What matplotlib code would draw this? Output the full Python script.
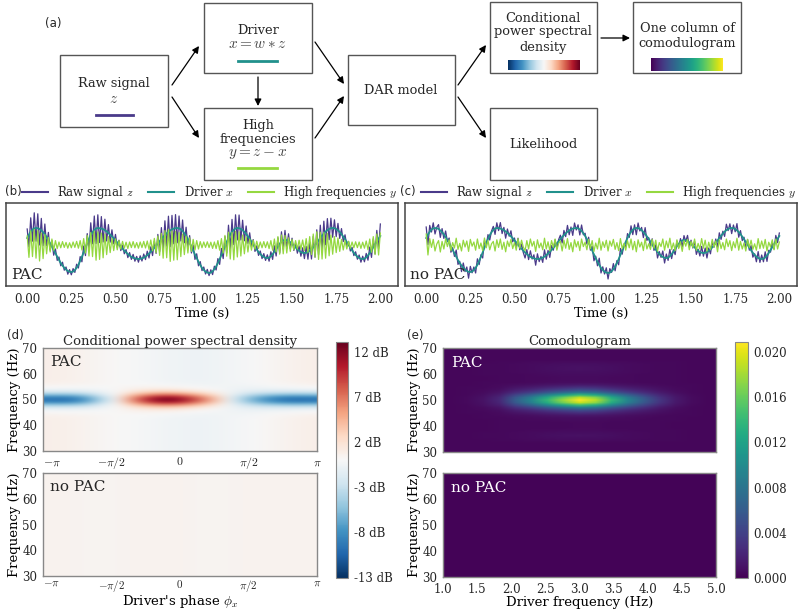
import numpy as np
import matplotlib
matplotlib.use('Agg')
import matplotlib.pyplot as plt
from matplotlib.patches import Rectangle

plt.rcParams['font.family'] = 'DejaVu Serif'
plt.rcParams['mathtext.fontset'] = 'cm'
plt.rcParams['text.color'] = '#262626'
plt.rcParams['xtick.color'] = '#262626'
plt.rcParams['ytick.color'] = '#262626'

# ---------------- data ----------------
# time axis of panels (b) and (c), 100 Hz sampling
time_s = np.linspace(0, 2, 201)

# driver x (low frequency part), read every 10 ms
driver = [
    0.35, 0.52, 0.66, 0.77, 0.83, 0.85,
    0.84, 0.80, 0.73, 0.64, 0.53, 0.40, 0.25, 0.09, -0.08, -0.25,
    -0.42, -0.59, -0.75, -0.90, -1.03, -1.14, -1.23, -1.30, -1.34, -1.35,
    -1.33, -1.25, -1.14, -0.99, -0.80, -0.59, -0.37, -0.13, 0.09, 0.30,
    0.49, 0.64, 0.75, 0.83, 0.85,
    0.84, 0.82, 0.79, 0.74, 0.68, 0.60, 0.52, 0.43, 0.34, 0.23,
    0.13, 0.02, -0.08, -0.19, -0.28, -0.37, -0.45, -0.53, -0.59, -0.64,
    -0.67, -0.69, -0.70,
    -0.69, -0.67, -0.63, -0.58, -0.51, -0.43, -0.34, -0.25, -0.14, -0.04,
    0.08, 0.19, 0.29, 0.40, 0.49, 0.58, 0.66, 0.73, 0.78, 0.82,
    0.84, 0.85,
    0.83, 0.78, 0.70, 0.59, 0.45, 0.29, 0.11, -0.08, -0.28, -0.47,
    -0.66, -0.84, -1.00, -1.14, -1.25, -1.33, -1.38, -1.40,
    -1.38, -1.31, -1.21, -1.07, -0.90, -0.71, -0.49, -0.28, -0.06, 0.16,
    0.35, 0.52, 0.66, 0.76, 0.83, 0.85,
    0.84, 0.80, 0.74, 0.65, 0.55, 0.43, 0.31, 0.17, 0.03, -0.11,
    -0.23, -0.35, -0.45, -0.54, -0.60, -0.64, -0.65,
    -0.63, -0.56, -0.46, -0.34, -0.20, -0.06, 0.06, 0.16, 0.23, 0.25,
    0.24, 0.20, 0.14, 0.06, -0.03, -0.12, -0.21, -0.29, -0.35, -0.39, -0.40,
    -0.39, -0.35, -0.29, -0.22, -0.12, -0.01, 0.10, 0.23, 0.35, 0.46,
    0.57, 0.67, 0.74, 0.80, 0.84, 0.85,
    0.84, 0.80, 0.73, 0.65, 0.54, 0.42, 0.29, 0.15, 0.00, -0.14,
    -0.27, -0.39, -0.50, -0.58, -0.65, -0.69, -0.70,
    -0.68, -0.62, -0.52, -0.40, -0.26, -0.11, 0.04, 0.18, 0.32, 0.45,
]

# high frequencies y with PAC (50 Hz, amplitude follows driver phase)
high_pac = [
    0.45, -0.62, 0.70, -0.58, 0.78, -0.66, 0.72, -0.80, 0.60, -0.68, 0.52,
    -0.44, 0.38, -0.35, 0.30, -0.26, 0.22,
    -0.18, 0.15, -0.14, 0.17, -0.12, 0.13, -0.16, 0.11, -0.14, 0.15,
    -0.12, 0.18, -0.16, 0.22, -0.25,
    0.32, -0.40, 0.48, -0.55, 0.62, -0.58, 0.70, -0.76, 0.66, -0.72,
    0.60, -0.64, 0.55, -0.48, 0.42, -0.38,
    0.33, -0.28, 0.30, -0.24, 0.22, -0.20, 0.18,
    -0.16, 0.14, -0.18, 0.15, -0.13, 0.17, -0.14, 0.12, -0.16, 0.15,
    -0.13, 0.18, -0.15, 0.20, -0.22, 0.25, -0.28, 0.33,
    -0.38, 0.45, -0.52, 0.58, -0.66, 0.72, -0.64, 0.78, -0.82, 0.70,
    -0.76, 0.68, -0.74, 0.62, -0.58, 0.55, -0.48, 0.44, -0.40, 0.36,
    -0.32, 0.28, -0.25, 0.22, -0.20,
    0.17, -0.14, 0.15, -0.12, 0.16, -0.13, 0.14, -0.17, 0.15, -0.18,
    0.22, -0.26,
    0.32, -0.40, 0.48, -0.56, 0.64, -0.70, 0.62, -0.74, 0.68, -0.60,
    0.66, -0.55, 0.50, -0.44, 0.40, -0.35,
    0.30, -0.26, 0.24, -0.21, 0.19, -0.17,
    0.15, -0.14, 0.17, -0.13, 0.16, -0.18, 0.22, -0.26, 0.30,
    -0.35, 0.42, -0.46, 0.50, -0.44, 0.48, -0.40, 0.36, -0.32, 0.28,
    -0.24, 0.22, -0.20, 0.24, -0.21, 0.25, -0.28, 0.32, -0.36, 0.42,
    -0.48, 0.55, -0.60, 0.66, -0.72, 0.64, -0.70, 0.62, -0.66, 0.58,
    -0.54, 0.50, -0.46, 0.42, -0.38, 0.35, -0.32, 0.28,
    -0.25, 0.22, -0.20, 0.18, -0.16, 0.15,
    -0.14, 0.16, -0.13, 0.15, -0.17, 0.14, -0.16, 0.20, -0.24, 0.30,
    -0.36, 0.42, -0.48, 0.55, -0.50, 0.60,
]

# high frequencies y without PAC (constant amplitude)
high_nopac = [
    0.55, -0.50, 0.32, -0.12, 0.28, -0.30, 0.05, 0.22, -0.35, 0.18,
    -0.20, 0.30, -0.08, 0.26, -0.28, 0.12, -0.15, 0.34, -0.22, 0.08,
    -0.30, 0.24, -0.10, 0.20, -0.32, 0.28, -0.06, 0.15, -0.26, 0.30,
    -0.18, 0.10, -0.28, 0.35, -0.14, 0.22, -0.24, 0.06, 0.18, -0.30,
    0.26, -0.12, 0.30, -0.22, 0.14, -0.34, 0.20, -0.08, 0.28, -0.18,
    0.12, -0.26, 0.32, -0.16, 0.24, -0.10, -0.28, 0.22, -0.20, 0.30,
    -0.06, 0.18, -0.32, 0.26, -0.14, 0.10, -0.24, 0.34, -0.20, 0.16,
    -0.28, 0.22, -0.12, 0.30, -0.26, 0.08, 0.20, -0.30, 0.24, -0.16,
    0.32, -0.22, 0.12, -0.34, 0.26, -0.10, 0.18, -0.28, 0.30, -0.08,
    0.14, -0.24, 0.28, -0.18, 0.22, -0.32, 0.10, -0.20, 0.34, -0.26,
    0.16, -0.12, 0.24, -0.30, 0.20, -0.06, 0.28, -0.22, 0.12, -0.28,
    0.32, -0.18, 0.08, -0.26, 0.22, -0.14, 0.30, -0.24, 0.18, -0.34,
    0.26, -0.10, 0.14, -0.28, 0.32, -0.20, 0.06, -0.22, 0.28, -0.16,
    0.24, -0.30, 0.12, -0.08, 0.30, -0.26, 0.20, -0.14, 0.34, -0.22,
    0.10, -0.28, 0.26, -0.18, 0.16, -0.32, 0.22, -0.06, 0.28, -0.24,
    0.18, -0.12, 0.30, -0.26, 0.08, -0.20, 0.32, -0.16, 0.24, -0.30,
    0.14, -0.22, 0.28, -0.10, 0.20, -0.34, 0.26, -0.18, 0.12, -0.24,
    0.30, -0.08, 0.22, -0.28, 0.16, -0.14, 0.34, -0.26, 0.18, -0.20,
    0.10, -0.30, 0.28, -0.12, 0.24, -0.22, 0.06, -0.26, 0.32, -0.18,
    0.20, -0.16, 0.28, -0.30, 0.14, -0.10, 0.26, -0.24, 0.30, -0.20,
    0.15,
]

time_ticks = [0.0, 0.25, 0.5, 0.75, 1.0, 1.25, 1.5, 1.75, 2.0]

# conditional PSD, frequency rows 30..70 Hz (1 Hz), phase columns -pi..pi (pi/8)
psd_freqs = np.arange(30, 71)
psd_phases = np.linspace(-np.pi, np.pi, 17)
psd_db_50hz_pac = [-10.5, -10.5, -8.5, -4.5, -0.5, 6.0, 10.5, 13.0, 12.0,
                   9.0, 5.0, -0.3, -4.5, -7.5, -9.5, -10.5, -10.5]
psd_bg_pac = [0.8, 0.7, 0.5, 0.3, 0.1, -0.1, -0.3, -0.5, -0.6,
              -0.7, -0.6, -0.4, -0.2, 0.1, 0.4, 0.6, 0.8]
psd_bg_nopac = [0.5, 0.5, 0.4, 0.4, 0.4, 0.5, 0.5, 0.5, 0.5,
                0.4, 0.4, 0.4, 0.5, 0.5, 0.5, 0.5, 0.5]
psd_freq_weight = [0] * 13 + [0.01, 0.03, 0.07, 0.15, 0.32, 0.58, 0.87, 1.0,
                              0.87, 0.58, 0.32, 0.15, 0.07, 0.03, 0.01] + [0] * 13
psd_ticks = [-13, -8, -3, 2, 7, 12]
phase_ticks = [-np.pi, -np.pi / 2, 0, np.pi / 2, np.pi]
phase_labels = [r'$-\pi$', r'$-\pi/2$', r'$0$', r'$\pi/2$', r'$\pi$']

# comodulogram, frequency rows 30..70 Hz, driver frequency columns 1..5 Hz (0.25)
comod_driver_freqs = np.linspace(1.0, 5.0, 17)
comod_driver_profile = [0.0, 0.005, 0.03, 0.09, 0.28, 0.45, 0.66, 0.85, 1.0,
                        0.9, 0.66, 0.45, 0.28, 0.14, 0.05, 0.01, 0.0]
comod_freq_weight = ([0] * 4 +
                     [0.01, 0.02, 0.025, 0.02, 0.01, 0.005, 0.005, 0.005, 0.01,
                      0.02, 0.05, 0.12, 0.22, 0.40, 0.68, 0.92, 1.0, 0.90, 0.65,
                      0.38, 0.22, 0.12, 0.05, 0.015, 0.01, 0.01, 0.015, 0.02,
                      0.025, 0.025, 0.02, 0.01] +
                     [0] * 5)
comod_peak = 0.0205
comod_floor_pac = 0.0004
comod_floor_nopac = 0.0002
comod_ticks = [0.0, 0.004, 0.008, 0.012, 0.016, 0.020]

c_raw = '#4a3a8a'
c_drv = '#21918c'
c_high = '#95d840'

# tables for imshow
psd_pac = np.outer(psd_freq_weight, psd_db_50hz_pac) + np.array(psd_bg_pac)[None, :]
psd_nopac = np.zeros((len(psd_freqs), len(psd_phases))) + np.array(psd_bg_nopac)[None, :]
comod_pac = comod_peak * np.outer(comod_freq_weight, comod_driver_profile) + comod_floor_pac
comod_nopac = np.full((len(psd_freqs), len(comod_driver_freqs)), comod_floor_nopac)

# ---------------- figure ----------------
W, H = 800, 609
fig = plt.figure(figsize=(8, 6.09), dpi=100)


def box(x0, y0, x1, y1):
    return [x0 / W, 1 - y1 / H, (x1 - x0) / W, (y1 - y0) / H]


# (a) diagram drawn in pixel coordinates
ax0 = fig.add_axes([0, 0, 1, 1])
ax0.set_xlim(0, W)
ax0.set_ylim(H, 0)
ax0.axis('off')
ax0.patch.set_visible(False)

boxes = {
    'raw': (60, 55, 168, 127),
    'drv': (204, 3, 312, 73),
    'high': (204, 108, 312, 180),
    'dar': (348, 55, 455, 125),
    'psd': (490, 2, 597, 73),
    'col': (633, 2, 741, 73),
    'lik': (490, 108, 597, 180),
}
for x0, y0, x1, y1 in boxes.values():
    ax0.add_patch(Rectangle((x0, y0), x1 - x0, y1 - y0, fill=False,
                            ec='#555555', lw=1.0))

fs_box = 9.3
fs_math = 11
ax0.text(114, 83, 'Raw signal', ha='center', va='center', fontsize=fs_box)
ax0.text(114, 99, r'$z$', ha='center', va='center', fontsize=fs_math, color='#444444')
ax0.plot([96, 133], [115, 115], color=c_raw, lw=2)
ax0.text(258, 30, 'Driver', ha='center', va='center', fontsize=fs_box)
ax0.text(258, 44, r'$x = w * z$', ha='center', va='center', fontsize=fs_math, color='#444444')
ax0.plot([238, 277], [61, 61], color=c_drv, lw=2)
ax0.text(258, 125, 'High', ha='center', va='center', fontsize=fs_box)
ax0.text(258, 139, 'frequencies', ha='center', va='center', fontsize=fs_box)
ax0.text(258, 154, r'$y = z - x$', ha='center', va='center', fontsize=fs_math, color='#444444')
ax0.plot([238, 277], [168, 168], color=c_high, lw=2)
ax0.text(401, 90, 'DAR model', ha='center', va='center', fontsize=fs_box)
ax0.text(543, 18, 'Conditional', ha='center', va='center', fontsize=fs_box)
ax0.text(543, 32, 'power spectral', ha='center', va='center', fontsize=fs_box)
ax0.text(543, 47, 'density', ha='center', va='center', fontsize=fs_box)
ax0.text(687, 29, 'One column of', ha='center', va='center', fontsize=fs_box)
ax0.text(687, 44, 'comodulogram', ha='center', va='center', fontsize=fs_box)
ax0.text(543, 144, 'Likelihood', ha='center', va='center', fontsize=fs_box)

arrows = [
    ((172, 85), (199, 46)),
    ((172, 97), (199, 138)),
    ((258, 77), (258, 106)),
    ((315, 42), (344, 84)),
    ((315, 138), (344, 96)),
    ((458, 85), (486, 45)),
    ((458, 97), (486, 138)),
    ((601, 38), (630, 38)),
]
for start, end in arrows:
    ax0.annotate('', xy=end, xytext=start,
                 arrowprops=dict(arrowstyle='-|>', color='black', lw=0.9,
                                 mutation_scale=10, shrinkA=0, shrinkB=0))

grad = np.linspace(0, 1, 256)[None, :]
for (x0, y0, x1, y1), cmap in [((508, 60, 580, 70), 'RdBu_r'),
                               ((651, 58, 723, 71), 'viridis')]:
    axg = fig.add_axes(box(x0, y0, x1, y1))
    axg.imshow(grad, aspect='auto', cmap=cmap)
    axg.axis('off')

sans = dict(family='DejaVu Sans', fontsize=8.5, va='center')
ax0.text(45, 24, '(a)', **sans)
ax0.text(5, 191, '(b)', **sans)
ax0.text(400, 191, '(c)', **sans)
ax0.text(7, 336, '(d)', **sans)
ax0.text(407, 336, '(e)', **sans)

# (b), (c) time series
for rect, high, name in [((6, 203, 398, 286), high_pac, 'PAC'),
                         ((405, 203, 797, 286), high_nopac, 'no PAC')]:
    ax = fig.add_axes(box(*rect))
    raw = np.array(driver) + np.array(high)
    ax.plot(time_s, raw, color=c_raw, lw=0.9, label=r'Raw signal $z$')
    ax.plot(time_s, driver, color=c_drv, lw=1.3, label=r'Driver $x$')
    ax.plot(time_s, high, color=c_high, lw=0.9, label=r'High frequencies $y$')
    ax.set_xlim(-0.12, 2.10)
    ax.set_ylim(-2.05, 2.1)
    ax.set_yticks([])
    ax.set_xticks(time_ticks)
    ax.set_xticklabels([f'{v:.2f}' for v in time_ticks])
    ax.tick_params(axis='x', length=0, pad=5, labelsize=8.5)
    ax.set_xlabel('Time (s)', fontsize=9.5, labelpad=1)
    for s in ax.spines.values():
        s.set_color('#444444')
        s.set_linewidth(1.1)
    ax.text(0.012, 0.05, name, transform=ax.transAxes, fontsize=11,
            ha='left', va='bottom')
    leg = ax.legend(loc='lower left', bbox_to_anchor=(0.035, 0.99), ncol=3,
                    frameon=False, fontsize=8.5, handlelength=2.2,
                    handletextpad=0.8, columnspacing=1.2, borderaxespad=0,
                    borderpad=0.2)
    for line in leg.get_lines():
        line.set_linewidth(1.5)


def style_heat(ax):
    for s in ax.spines.values():
        s.set_color('#888888')
        s.set_linewidth(1.0)
    ax.tick_params(length=0, labelsize=8.5, pad=3)
    ax.tick_params(axis='y', pad=4)
    ax.set_yticks([30, 40, 50, 60, 70])
    ax.set_ylabel('Frequency (Hz)', fontsize=9.5, labelpad=1)


# (d) conditional PSD
norm_d = dict(cmap='RdBu_r', vmin=-13.1, vmax=13.1)
ax_d1 = fig.add_axes(box(43, 348, 317, 451))
im_d = ax_d1.imshow(psd_pac, origin='lower', aspect='auto', interpolation='bicubic',
                    extent=[-np.pi, np.pi, 30, 70], **norm_d)
ax_d2 = fig.add_axes(box(43, 473, 317, 576))
ax_d2.imshow(psd_nopac, origin='lower', aspect='auto', interpolation='bicubic',
             extent=[-np.pi, np.pi, 30, 70], **norm_d)
for ax, name in [(ax_d1, 'PAC'), (ax_d2, 'no PAC')]:
    style_heat(ax)
    ax.set_xticks(phase_ticks)
    ax.set_xticklabels(phase_labels)
    ax.get_xticklabels()[0].set_horizontalalignment('left')
    ax.text(0.025, 0.86, name, transform=ax.transAxes, fontsize=11,
            ha='left', va='center', color='#262626')
ax_d2.tick_params(axis='x', pad=1.5, labelsize=8)
ax_d1.set_title('Conditional power spectral density', fontsize=9.5, pad=2)
ax_d2.set_xlabel(r"Driver's phase $\phi_x$", fontsize=9.5, labelpad=-1)

cax_d = fig.add_axes(box(336, 342, 348, 578))
cb_d = fig.colorbar(im_d, cax=cax_d)
cb_d.set_ticks(psd_ticks)
cb_d.set_ticklabels([f'{v} dB' for v in psd_ticks])
cb_d.ax.tick_params(length=0, labelsize=8.5, pad=4)
cb_d.outline.set_edgecolor('#888888')

# (e) comodulogram
norm_e = dict(cmap='viridis', vmin=0.0, vmax=0.0209)
ax_e1 = fig.add_axes(box(443, 348, 716, 452))
im_e = ax_e1.imshow(comod_pac, origin='lower', aspect='auto', interpolation='bilinear',
                    extent=[1.0, 5.0, 30, 70], **norm_e)
ax_e2 = fig.add_axes(box(443, 473, 716, 577))
ax_e2.imshow(comod_nopac, origin='lower', aspect='auto', interpolation='bilinear',
             extent=[1.0, 5.0, 30, 70], **norm_e)
for ax, name in [(ax_e1, 'PAC'), (ax_e2, 'no PAC')]:
    style_heat(ax)
    ax.set_xticks([1.0, 1.5, 2.0, 2.5, 3.0, 3.5, 4.0, 4.5, 5.0])
    ax.text(0.03, 0.86, name, transform=ax.transAxes, fontsize=11,
            ha='left', va='center', color='white')
ax_e1.set_xticklabels([])
ax_e1.set_title('Comodulogram', fontsize=9.5, pad=2)
ax_e2.tick_params(axis='x', pad=4)
ax_e2.set_xlabel('Driver frequency (Hz)', fontsize=9.5, labelpad=0)

cax_e = fig.add_axes(box(735, 342, 748, 578))
cb_e = fig.colorbar(im_e, cax=cax_e)
cb_e.set_ticks(comod_ticks)
cb_e.set_ticklabels([f'{v:.3f}' for v in comod_ticks])
cb_e.ax.tick_params(length=0, labelsize=8.5, pad=4)
cb_e.outline.set_edgecolor('#888888')

fig.savefig('out.png', dpi=100)
